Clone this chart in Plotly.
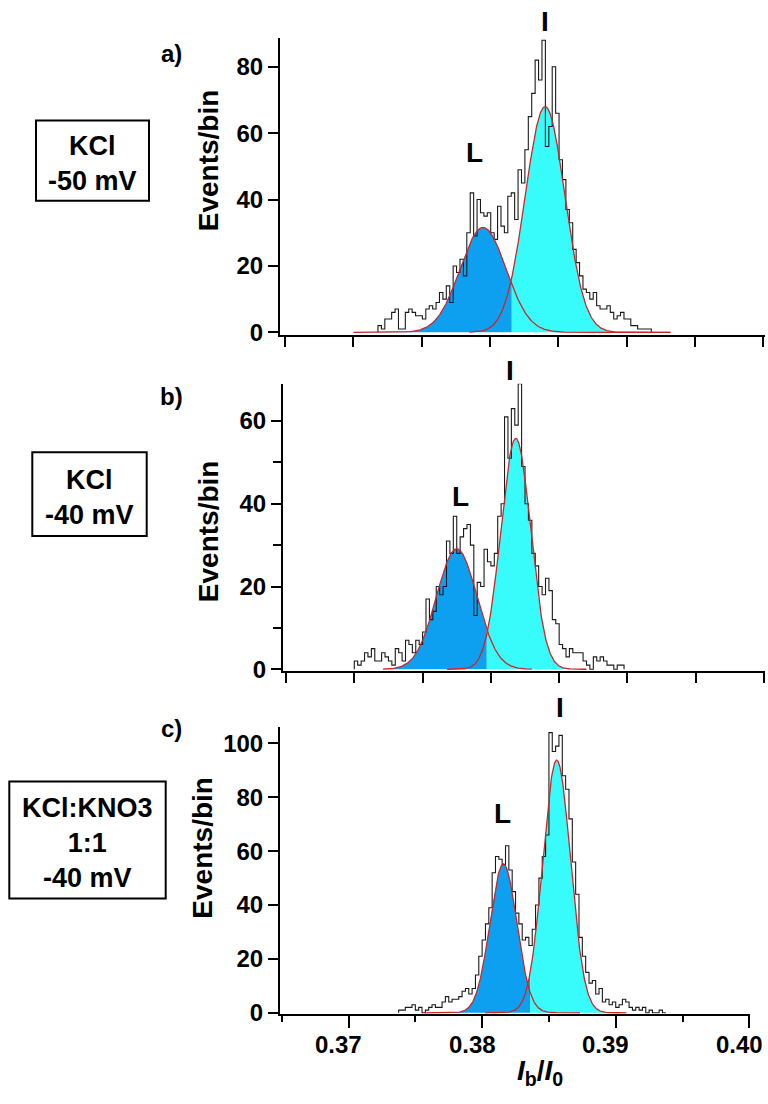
import numpy as np
import plotly.graph_objects as go

W, H = 768, 1104
BIN_WIDTH = 0.00025

# ---------------- data ----------------
# a) KCl, -50 mV
a_hist_start = 0.3718
a_counts = [2, 1, 4, 4, 6, 7, 1, 1, 6, 7, 6, 5, 5, 4, 7, 8, 7, 9, 12, 10, 14, 9, 20, 18, 22, 17, 30, 42, 29, 40,
            36, 35, 36, 30, 28, 38, 32, 30, 41, 42, 34, 49, 45, 55, 65, 72, 82, 76, 88, 56,
            62, 80, 66, 52, 46, 37, 33, 25, 21, 17, 13, 12, 10, 12, 8, 7, 7, 8, 6, 4,
            5, 6, 4, 4, 2, 2, 1, 1, 1, 1]
a_fit_L = [31.6, 0.37949, 0.00168]   # amplitude, centre, sigma
a_fit_I = [68.0, 0.38403, 0.00145]
a_range_L = [0.3700, 0.3932]
a_range_I = [0.3785, 0.3932]
a_split = 0.38159

# b) KCl, -40 mV
b_hist_start = 0.3700
b_counts = [2, 1, 2, 4, 3, 5, 2, 2, 4, 3, 2, 1, 5, 4, 2, 7, 6, 4, 7, 6, 9, 17, 12, 14, 20, 18, 20,
            31, 28, 37, 28, 32, 34, 35, 30, 13, 21,
            20, 29, 26, 25, 28, 37, 40, 61, 51, 63, 59, 69, 49, 40, 36, 28, 25, 20, 18, 22,
            19, 12, 11, 6, 5, 3, 5, 4, 4, 4, 2, 1, 0, 3, 2, 3, 2, 1, 1, 0, 1, 1]
b_fit_L = [29.1, 0.37750, 0.00148]
b_fit_I = [55.8, 0.38182, 0.00109]
b_range_L = [0.3721, 0.3830]
b_range_I = [0.3768, 0.3870]
b_split = 0.37970

# c) KCl:KNO3 1:1, -40 mV
c_hist_start = 0.37375
c_counts = [1, 1, 2, 2, 3, 1, 2, 0, 1, 2, 3, 2, 2, 4, 6, 4, 5, 5, 6, 8, 9, 7, 9,
            14, 21, 27, 33, 39, 52, 58, 57, 55, 62, 53, 45, 37, 33, 27, 28, 25, 31, 40, 50,
            58, 66, 104, 97, 99, 103, 88, 83, 72, 56, 44, 28, 21, 15, 11, 12,
            7, 9, 4, 5, 3, 4, 2, 3, 5, 4, 2, 1, 2, 1, 2, 0, 1, 0, 0, 1, 0]
c_fit_L = [55.3, 0.38159, 0.001004]
c_fit_I = [93.8, 0.38558, 0.001036]
c_range_L = [0.37573, 0.38733]
c_range_I = [0.38022, 0.39080]
c_split = 0.38359

panel_tags = ["a)", "b)", "c)"]
box_texts = ["KCl<br>-50 mV", "KCl<br>-40 mV", "KCl:KNO3<br>1:1<br>-40 mV"]
y_title = "Events/bin"
x_title = "<i>I</i><sub>b</sub>/<i>I</i><sub>0</sub>"
c_xtick_vals = [0.37, 0.38, 0.39, 0.40]
c_xtick_text = ["0.37", "0.38", "0.39", "0.40"]

# ---------------- styling ----------------
FONT = "Liberation Sans, Arial, sans-serif"
BLUE = "#0ea0f0"
CYAN = "#38fbfb"
RED = "rgb(205,38,38)"
HIST = "#1a1a1a"


def gauss(x, p):
    A, mu, s = p
    return A * np.exp(-0.5 * ((x - mu) / s) ** 2)


def px(x):
    return x / W


def py(y):
    return 1 - y / H


panels = [
    dict(start=a_hist_start, counts=a_counts, L=a_fit_L, I=a_fit_I, rL=a_range_L, rI=a_range_I, split=a_split,
         xdom=(280, 765), xr=(0.36463, 0.40012), ydom=(38, 338.3), yr=(-0.7, 88.8)),
    dict(start=b_hist_start, counts=b_counts, L=b_fit_L, I=b_fit_I, rL=b_range_L, rI=b_range_I, split=b_split,
         xdom=(283, 765), xr=(0.36478, 0.40007), ydom=(388, 678.3), yr=(-0.4, 69.0)),
    dict(start=c_hist_start, counts=c_counts, L=c_fit_L, I=c_fit_I, rL=c_range_L, rI=c_range_I, split=c_split,
         xdom=(280, 750), xr=(0.36487, 0.40005), ydom=(735, 1025), yr=(-0.4, 106.1)),
]

fig = go.Figure()
bold = dict(family=FONT, color="black", weight="bold")
annotations = []

for i, p in enumerate(panels):
    sfx = "" if i == 0 else str(i + 1)
    xa, ya = "x" + sfx, "y" + sfx

    def combined(x):
        gl = np.where((x >= p["rL"][0]) & (x <= p["rL"][1]), gauss(x, p["L"]), 0)
        gi = np.where((x >= p["rI"][0]) & (x <= p["rI"][1]), gauss(x, p["I"]), 0)
        return np.maximum(gl, gi)

    xl = np.linspace(p["rL"][0], p["split"], 400)
    xi = np.linspace(p["split"], p["rI"][1], 400)
    fig.add_trace(go.Scatter(x=xl, y=combined(xl), mode="lines", fill="tozeroy", fillcolor=BLUE,
                             line=dict(width=0, color=BLUE), xaxis=xa, yaxis=ya, showlegend=False))
    fig.add_trace(go.Scatter(x=xi, y=combined(xi), mode="lines", fill="tozeroy", fillcolor=CYAN,
                             line=dict(width=0, color=CYAN), xaxis=xa, yaxis=ya, showlegend=False))

    n = len(p["counts"])
    edges = [p["start"] + k * BIN_WIDTH for k in range(n + 1)]
    hx = [edges[0]] + edges[:n] + [edges[n], edges[n]]
    hy = [0] + list(p["counts"]) + [p["counts"][-1], 0]
    fig.add_trace(go.Scatter(x=hx, y=hy, mode="lines", line=dict(shape="hv", width=1.1, color=HIST),
                             xaxis=xa, yaxis=ya, showlegend=False))

    for key, rkey in (("L", "rL"), ("I", "rI")):
        xx = np.linspace(p[rkey][0], p[rkey][1], 500)
        fig.add_trace(go.Scatter(x=xx, y=gauss(xx, p[key]), mode="lines", line=dict(width=1.3, color=RED),
                                 xaxis=xa, yaxis=ya, showlegend=False))

    xkey = "xaxis" + sfx
    ykey = "yaxis" + sfx
    common = dict(showline=True, linecolor="black", linewidth=2, ticks="outside", tickcolor="black",
                  tickwidth=2, showgrid=False, zeroline=False,
                  tickfont=dict(family=FONT, size=24, color="black", weight="bold"))
    xcfg = dict(common, domain=[px(p["xdom"][0]), px(p["xdom"][1])], range=list(p["xr"]), anchor=ya,
                showticklabels=False)
    if i < 2:
        xcfg.update(tickmode="array", tickvals=[0.365, 0.37, 0.375, 0.38, 0.385, 0.39, 0.395, 0.40],
                    ticklen=10)
    else:
        xcfg.update(tickmode="array", tickvals=c_xtick_vals, ticklen=12,
                    minor=dict(tickvals=[0.365, 0.375, 0.385, 0.395], ticks="outside", ticklen=6,
                               tickwidth=2, tickcolor="black"))
        # tick labels sit slightly left of their ticks in the original
        for v, t in zip(c_xtick_vals, c_xtick_text):
            annotations.append(dict(text=t, x=v, xref=xa, y=py(1056), yref="paper", xshift=-10,
                                    showarrow=False, font=dict(bold, size=24),
                                    xanchor="center", yanchor="middle"))
    ycfg = dict(common, domain=[py(p["ydom"][1]), py(p["ydom"][0])], range=list(p["yr"]), anchor=xa,
                ticklen=10)
    if i == 0:
        ycfg.update(tickvals=[0, 20, 40, 60, 80])
    elif i == 1:
        ycfg.update(tickvals=[0, 20, 40, 60],
                    minor=dict(tickvals=[10, 30, 50], ticks="outside", ticklen=8, tickwidth=2, tickcolor="black"))
    else:
        ycfg.update(tickvals=[0, 20, 40, 60, 80, 100])
    fig.update_layout(**{xkey: xcfg, ykey: ycfg})

# panel tags
for tag, (x, y) in zip(panel_tags, [(171, 54), (171, 401), (171, 737)]):
    annotations.append(dict(text=tag, x=px(x), y=py(y), xref="paper", yref="paper", showarrow=False,
                            font=dict(bold, size=24), xanchor="center", yanchor="middle"))
# y titles
for (x, y) in [(208, 162), (208, 537), (203, 857)]:
    annotations.append(dict(text=y_title, x=px(x), y=py(y), xref="paper", yref="paper", showarrow=False,
                            textangle=-90, font=dict(bold, size=28), xanchor="center", yanchor="middle"))
# peak labels
for (lbl, x, y) in [("L", 474, 154), ("I", 545, 22), ("L", 460, 502), ("I", 510, 375),
                    ("L", 502, 822), ("I", 560, 715)]:
    annotations.append(dict(text=lbl, x=px(x), y=py(y), xref="paper", yref="paper", showarrow=False,
                            font=dict(bold, size=28), xanchor="center", yanchor="middle"))
# x title
annotations.append(dict(text=x_title, x=px(540), y=py(1084), xref="paper", yref="paper", showarrow=False,
                        font=dict(bold, size=28), xanchor="center", yanchor="middle"))

# condition boxes
boxes = [(36, 121.7, 149, 203, 165), (32.3, 457.3, 146.7, 542, 503), (9.3, 790, 165.7, 908.3, 852)]
shapes = []
for txt, (x0, y0, x1, y1, tc) in zip(box_texts, boxes):
    shapes.append(dict(type="rect", xref="paper", yref="paper", x0=px(x0), x1=px(x1), y0=py(y1), y1=py(y0),
                       line=dict(color="black", width=2), fillcolor="rgba(0,0,0,0)"))
    annotations.append(dict(text=txt, x=px((x0 + x1) / 2), y=py(tc), xref="paper", yref="paper",
                            showarrow=False, align="center", font=dict(bold, size=27),
                            xanchor="center", yanchor="middle"))

fig.update_layout(width=W, height=H, margin=dict(l=0, r=0, t=0, b=0), autosize=False,
                  paper_bgcolor="white", plot_bgcolor="white", annotations=annotations, shapes=shapes,
                  showlegend=False)

fig.write_html("out.html")
